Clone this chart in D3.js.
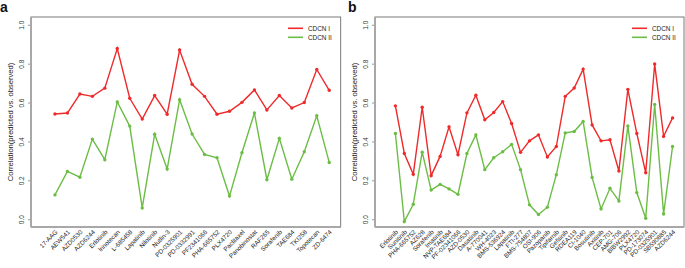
<!DOCTYPE html>
<html><head><meta charset="utf-8">
<script src="https://cdn.jsdelivr.net/npm/d3@7"></script>
<style>body{margin:0;background:#fff}svg{display:block}text{font-family:"Liberation Sans",Arial,sans-serif}</style>
</head><body><svg id="c" width="685" height="268"></svg>
<script>
const catsA = ["17-AAG","AEW541","AZD0530","AZD6244","Erlotinib","Irinotecan","L-685458","Lapatinib","Nilotinib","Nutlin-3","PD-0325901","PD-0332991","PF2341066","PHA-665752","PLX4720","Paclitaxel","Panobinostat","RAF265","Sorafenib","TAE684","TKI258","Topotecan","ZD-6474"];
const cdcn1A = [0.541,0.546,0.644,0.632,0.674,0.878,0.622,0.515,0.636,0.540,0.870,0.694,0.632,0.540,0.555,0.601,0.665,0.562,0.636,0.572,0.600,0.770,0.663];
const cdcn2A = [0.125,0.246,0.216,0.412,0.306,0.603,0.479,0.058,0.437,0.258,0.615,0.438,0.333,0.316,0.119,0.342,0.546,0.203,0.416,0.206,0.347,0.532,0.292];
const catsB = ["Erlotinib","Sunitinib","PHA-665752","AZ628","Sorafenib","Imatinib","NVP-TAE684","PF-02341066","AZD-0530","Dasatinib","A-770041","WH-4023","BMS-536924","Lapatinib","FTI-277","BMS-754807","OSI-906","Pazopanib","Tipifarnib","Gefitinib","RDEA119","CI-1040","Bosutinib","Axitinib","CEP-701","AMG-706","BIBW2992","PLX4720","PD-173074","PD-0325901","SB590885","AZD6244"];
const cdcn1B = [0.583,0.338,0.231,0.576,0.224,0.323,0.475,0.332,0.547,0.638,0.511,0.549,0.605,0.492,0.344,0.403,0.434,0.320,0.374,0.632,0.675,0.772,0.485,0.403,0.409,0.248,0.668,0.441,0.239,0.798,0.426,0.521];
const cdcn2B = [0.441,-0.012,0.077,0.345,0.150,0.179,0.156,0.128,0.338,0.434,0.255,0.316,0.347,0.385,0.255,0.074,0.024,0.062,0.229,0.444,0.451,0.503,0.215,0.053,0.159,0.094,0.480,0.137,0.005,0.590,0.027,0.374];
const yTicks = [0,0.2,0.4,0.6,0.8,1.0];
const seriesNames = ["CDCN I","CDCN II"];
const colors = ["#ee2a2a","#6cbd45"];

const svg = d3.select("#c");

function panel(o){
  const n = o.cats.length, pad = n*0.04;
  const x = d3.scaleLinear().domain([-pad, n+pad]).range([o.left, o.right]);
  const y = d3.scaleLinear().domain([-0.04,1.04]).range([227,17]);
  const g = svg.append("g");
  // box
  g.append("rect").attr("x",o.left).attr("y",17).attr("width",o.right-o.left).attr("height",210)
    .attr("fill","none").attr("stroke","#6a6a6a").attr("stroke-width",0.9);
  // y axis
  const ya = g.append("g").attr("transform",`translate(${o.left},0)`)
    .call(d3.axisLeft(y).tickValues(yTicks).tickFormat(d3.format(".1f")).tickSize(3).tickSizeOuter(0));
  ya.select(".domain").remove();
  ya.selectAll("line").attr("stroke","#999");
  ya.selectAll("text").attr("x",null).attr("dy",null).attr("text-anchor","middle")
    .attr("transform","translate(-7,0) rotate(-90)").attr("font-size",6.5).attr("fill","#333");
  g.append("line").attr("x1",o.left).attr("x2",o.left).attr("y1",y(0)).attr("y2",y(1)).attr("stroke","#999").attr("stroke-width",1);
  g.append("line").attr("x1",o.left).attr("x2",o.left).attr("y1",17).attr("y2",227).attr("stroke","#a8a8a8").attr("stroke-width",2);
  g.append("line").attr("x1",o.left).attr("x2",o.right).attr("y1",227).attr("y2",227).attr("stroke","#a8a8a8").attr("stroke-width",2);
  // y title
  g.append("text").attr("transform",`translate(${o.left-18.5},122) rotate(-90)`).attr("text-anchor","middle")
    .attr("font-size",7.6).attr("fill","#222").text("Correlation(predicted vs. observed)");
  // x labels
  g.selectAll(".xl").data(o.cats).join("text")
    .attr("transform",(d,i)=>`translate(${x(i+1)+1.5},231) rotate(-45)`)
    .attr("text-anchor","end").attr("dy","0.35em").attr("font-size",6.3).attr("fill","#222").text(d=>d);
  // series
  [o.s1,o.s2].forEach((s,k)=>{
    const line = d3.line().x((d,i)=>x(i+1)).y(d=>y(d));
    g.append("path").attr("d",line(s)).attr("fill","none").attr("stroke",colors[k]).attr("stroke-width",1.4);
    g.selectAll(".p"+k).data(s).join("circle").attr("cx",(d,i)=>x(i+1)).attr("cy",d=>y(d)).attr("r",1.7).attr("fill",colors[k]);
  });
  // legend
  seriesNames.forEach((nm,k)=>{
    g.append("line").attr("x1",o.legX).attr("x2",o.legX+15).attr("y1",28.3+9*k).attr("y2",28.3+9*k)
      .attr("stroke",colors[k]).attr("stroke-width",1.6);
    g.append("text").attr("x",o.legX+20).attr("y",28.3+9*k).attr("dy","0.35em").attr("font-size",6.4).attr("fill","#222").text(nm);
  });
  // panel letter
  svg.append("text").attr("x",o.letterX).attr("y",12).attr("font-family","Liberation Serif,serif").attr("font-weight","bold")
    .attr("font-size",14).attr("fill","#111").text(o.letter);
}
panel({cats:catsA,s1:cdcn1A,s2:cdcn2A,left:31,right:340.7,legX:288,letter:"a",letterX:0});
panel({cats:catsB,s1:cdcn1B,s2:cdcn2B,left:375,right:684,legX:632,letter:"b",letterX:348});
</script></body></html>
